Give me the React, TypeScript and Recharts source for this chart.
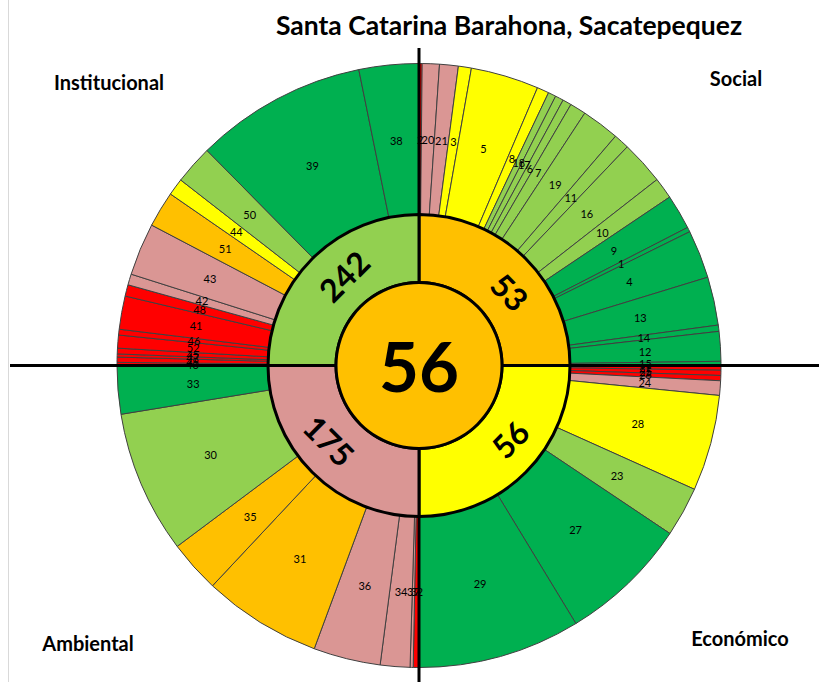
import React from 'react';
import { PieChart, Pie, Cell } from 'recharts';

// indicator numbers per dimension, in clockwise order, with their share of the ring (degrees) and status level
const socialIds = ['2', '20', '21', '3', '5', '8', '18', '17', '6', '7', '19', '11', '16', '10', '9', '1', '4', '13', '14', '12', '15'];
const socialShare = [0.6, 3.3, 3.6, 2.5, 13.1, 2.3, 1.5, 1.6, 1.7, 3.1, 7.3, 3.0, 8.4, 4.1, 6.7, 0.9, 9.3, 9.3, 1.2, 5.7, 0.8];
const socialLevel = [1, 2, 2, 4, 4, 4, 5, 5, 5, 5, 5, 5, 5, 5, 6, 6, 6, 6, 6, 6, 6];

const economicIds = ['22', '25', '26', '24', '28', '23', '27', '29'];
const economicShare = [0.9, 1.0, 1.0, 2.8, 18.5, 9.6, 24.9, 31.3];
const economicLevel = [1, 1, 1, 2, 4, 5, 6, 6];

const environmentIds = ['32', '37', '34', '36', '31', '35', '30', '33'];
const environmentShare = [1.1, 0.6, 5.7, 12.9, 22.85, 10.05, 27.5, 9.3];
const environmentLevel = [1, 2, 2, 2, 3, 3, 5, 6];

const institutionIds = ['40', '49', '47', '45', '52', '46', '41', '48', '42', '43', '51', '44', '50', '39', '38'];
const institutionShare = [0.6, 1.0, 0.6, 1.1, 2.5, 1.1, 6.4, 2.2, 2.1, 10.1, 6.9, 3.3, 7.5, 33.1, 11.5];
const institutionLevel = [1, 1, 1, 1, 1, 1, 1, 1, 2, 2, 3, 4, 5, 6, 6];

const dimensionNames = ['Social', 'Económico', 'Ambiental', 'Institucional'];
const dimensionRanks = [53, 56, 175, 242];
const dimensionLevel = [3, 4, 2, 5];

const overallRank = 56;
const overallLevel = 3;

const title = 'Santa Catarina Barahona, Sacatepequez';

const levelColors: Record<number, string> = {
  1: '#FF0000',
  2: '#DA9694',
  3: '#FFC000',
  4: '#FFFF00',
  5: '#92D050',
  6: '#00B050',
};

const W = 819;
const H = 682;
const CX = 419;
const CY = 365.5;
const R_CORE = 83;
const R_MID = 151;
const R_OUT = 302;
const RADIAN = Math.PI / 180;
const FONT = 'Lato, "Open Sans", sans-serif';

const buildRing = (ids: string[], share: number[], level: number[]) =>
  ids.map((id, i) => ({ id, share: share[i], level: level[i] }));

const indicators = [
  ...buildRing(socialIds, socialShare, socialLevel),
  ...buildRing(economicIds, economicShare, economicLevel),
  ...buildRing(environmentIds, environmentShare, environmentLevel),
  ...buildRing(institutionIds, institutionShare, institutionLevel),
];

const dimensions = dimensionNames.map((name, i) => ({
  name,
  rank: dimensionRanks[i],
  level: dimensionLevel[i],
  share: 1,
}));

const overall = [{ name: 'Total', rank: overallRank, level: overallLevel, share: 1 }];

const polar = (cx: number, cy: number, r: number, angle: number) => ({
  x: cx + r * Math.cos(-angle * RADIAN),
  y: cy + r * Math.sin(-angle * RADIAN),
});

const IndicatorLabel = (props: any) => {
  const { cx, cy, midAngle, innerRadius, outerRadius, index } = props;
  const { x, y } = polar(cx, cy, (innerRadius + outerRadius) / 2, midAngle);
  return (
    <text x={x} y={y} textAnchor="middle" dominantBaseline="central" fontSize={11} fontFamily={FONT} fill="#000">
      {indicators[index].id}
    </text>
  );
};

const DimensionLabel = (props: any) => {
  const { cx, cy, midAngle, innerRadius, outerRadius, index } = props;
  // the rank sits a little towards the horizontal axis, as in the original
  const toward = Math.abs(midAngle) < 90 ? 0 : 180;
  const shifted = midAngle + (toward === 0 ? -Math.sign(midAngle) * 6 : Math.sign(midAngle) * 5);
  const { x, y } = polar(cx, cy, (innerRadius + outerRadius) / 2, shifted);
  let rot = 90 - midAngle;
  while (rot > 90) rot -= 180;
  while (rot <= -90) rot += 180;
  return (
    <text
      x={x}
      y={y}
      textAnchor="middle"
      dominantBaseline="central"
      fontSize={32}
      fontWeight="bold"
      fontFamily={FONT}
      fill="#000"
      transform={`rotate(${rot} ${x} ${y})`}
    >
      {dimensions[index].rank}
    </text>
  );
};

const OverallLabel = (props: any) => (
  <text
    x={props.cx}
    y={props.cy}
    textAnchor="middle"
    dominantBaseline="central"
    fontSize={69}
    fontWeight="bold"
    fontFamily={FONT}
    fill="#000"
  >
    {overall[0].rank}
  </text>
);

const quadrantLabels = [
  { text: dimensionNames[0], x: 736, y: 86 },
  { text: dimensionNames[1], x: 740, y: 646 },
  { text: dimensionNames[2], x: 88, y: 651 },
  { text: dimensionNames[3], x: 109, y: 90 },
];

export default function App() {
  return (
    <div style={{ position: 'absolute', left: 0, top: 0, width: W, height: H, background: '#fff' }}>
      <PieChart width={W} height={H} margin={{ top: 0, right: 0, bottom: 0, left: 0 }}>
        <Pie
          data={indicators}
          dataKey="share"
          nameKey="id"
          cx={CX}
          cy={CY}
          startAngle={90}
          endAngle={-270}
          innerRadius={R_MID}
          outerRadius={R_OUT}
          stroke="#404040"
          strokeWidth={1}
          label={IndicatorLabel}
          labelLine={false}
          isAnimationActive={false}
        >
          {indicators.map((d) => (
            <Cell key={d.id} fill={levelColors[d.level]} />
          ))}
        </Pie>
        <Pie
          data={dimensions}
          dataKey="share"
          nameKey="name"
          cx={CX}
          cy={CY}
          startAngle={90}
          endAngle={-270}
          innerRadius={R_CORE}
          outerRadius={R_MID}
          stroke="#000"
          strokeWidth={3}
          label={DimensionLabel}
          labelLine={false}
          isAnimationActive={false}
        >
          {dimensions.map((d) => (
            <Cell key={d.name} fill={levelColors[d.level]} />
          ))}
        </Pie>
        <Pie
          data={overall}
          dataKey="share"
          nameKey="name"
          cx={CX}
          cy={CY}
          startAngle={90}
          endAngle={-270}
          innerRadius={0}
          outerRadius={R_CORE}
          stroke="none"
          label={OverallLabel}
          labelLine={false}
          isAnimationActive={false}
        >
          {overall.map((d) => (
            <Cell key={d.name} fill={levelColors[d.level]} />
          ))}
        </Pie>
        <Pie
          data={overall}
          dataKey="share"
          cx={CX}
          cy={CY}
          startAngle={90}
          endAngle={-270}
          innerRadius={R_CORE - 1.5}
          outerRadius={R_CORE + 1.5}
          stroke="none"
          fill="#000"
          isAnimationActive={false}
        />
      </PieChart>
      <svg width={W} height={H} style={{ position: 'absolute', left: 0, top: 0, pointerEvents: 'none' }}>
        <line x1={8.5} y1={0} x2={8.5} y2={H} stroke="#D9D9D9" strokeWidth={1} />
        <g stroke="#000" strokeWidth={3}>
          <line x1={CX} y1={48} x2={CX} y2={CY - R_MID} />
          <line x1={CX} y1={CY + R_MID} x2={CX} y2={H} />
          <line x1={10} y1={CY} x2={CX - R_MID} y2={CY} />
          <line x1={CX + R_MID} y1={CY} x2={W} y2={CY} />
        </g>
        <text x={509} y={35} textAnchor="middle" fontSize={26.5} fontWeight="bold" fontFamily={FONT} fill="#000">
          {title}
        </text>
        {quadrantLabels.map((q) => (
          <text key={q.text} x={q.x} y={q.y} textAnchor="middle" fontSize={20} fontWeight="bold" fontFamily={FONT} fill="#000">
            {q.text}
          </text>
        ))}
      </svg>
    </div>
  );
}
